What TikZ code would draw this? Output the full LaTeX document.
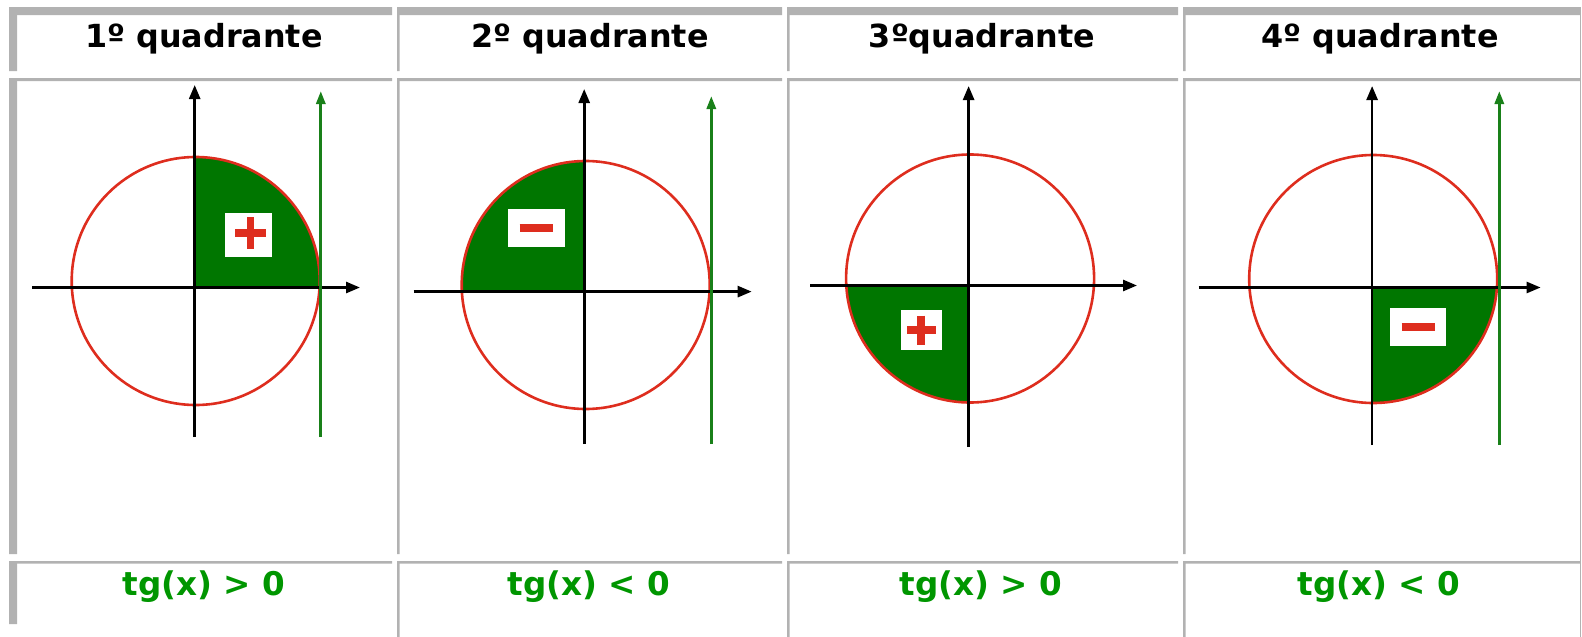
\documentclass[tikz,border=0pt]{standalone}
\usepackage{fontspec}
\setmainfont{DejaVu Sans}
\usetikzlibrary{arrows.meta,positioning}

\definecolor{cellgray}{RGB}{178,178,178}
\definecolor{sectorgreen}{RGB}{0,118,0}
\definecolor{tggreen}{RGB}{25,128,25}
\definecolor{labelgreen}{RGB}{0,150,0}
\definecolor{circred}{RGB}{222,45,30}

\begin{document}
\begin{tikzpicture}[x=1pt,y=-1pt,
  head/.style={anchor=base,font=\fontsize{31.8}{38}\selectfont\bfseries},
  tglabel/.style={anchor=base,text=labelgreen,font=\fontsize{32.6}{38}\selectfont\bfseries},
  axisline/.style={line width=2.6pt,-{Triangle[length=14pt,width=11pt]}},
  tgaxis/.style={tggreen,line width=3pt,-{Triangle[length=13pt,width=9pt]}},
  unitcirc/.style={circred,line width=2.6pt},
  signbox/.style={fill=white,inner sep=0pt},
  signmark/.style={circred,line width=7.5pt}]
\useasboundingbox (0,0) rectangle (1582,637);

% table frame
\fill[cellgray] (9,7) rectangle (392,15) (397,7) rectangle (782,15)
  (787,7) rectangle (1178,15) (1183,7) rectangle (1580,15);
\fill[cellgray] (9,78) rectangle (392,81) (397,78) rectangle (782,81)
  (787,78) rectangle (1178,81) (1183,78) rectangle (1580,81);
\fill[cellgray] (9,561) rectangle (392,563.5) (397,561) rectangle (782,563.5)
  (787,561) rectangle (1178,563.5) (1183,561) rectangle (1580,563.5);
\fill[cellgray] (9,7) rectangle (17,71) (9,78) rectangle (17,554) (9,561) rectangle (17,624);
\fill[cellgray] (397,7) rectangle (399.5,71) (397,78) rectangle (399.5,554) (397,561) rectangle (399.5,637);
\fill[cellgray] (787,7) rectangle (789.5,71) (787,78) rectangle (789.5,554) (787,561) rectangle (789.5,637);
\fill[cellgray] (1183,7) rectangle (1185.5,71) (1183,78) rectangle (1185.5,554) (1183,561) rectangle (1185.5,637);
\fill[cellgray] (1579.5,7) rectangle (1581,637);

% headers
\node[head] (h1) at (204,47) {1º quadrante};
\node[head] (h2) at (590,47) {2º quadrante};
\node[head] (h3) at (982,47) {3ºquadrante};
\node[head] (h4) at (1380,47) {4º quadrante};

% 1o quadrante
\begin{scope}
\clip (195.7,281) circle (124);
\fill[sectorgreen] (194.7,287.5) rectangle (340,140);
\end{scope}
\draw[unitcirc] (195.7,281) circle (124);
\draw[axisline] (194.7,437) -- (194.7,85);
\draw[axisline] (32,287.5) -- (360,287.5);
\draw[tgaxis] (320.8,437) -- (320.8,91);
\node[signbox,minimum width=47pt,minimum height=44pt] (s1) at (248.5,235) {};
\draw[signmark] (235,233) -- (266,233);
\draw[signmark] (250.5,217) -- (250.5,249);

% 2o quadrante
\begin{scope}
\clip (585.7,285) circle (124);
\fill[sectorgreen] (584.2,291.6) rectangle (440,140);
\end{scope}
\draw[unitcirc] (585.7,285) circle (124);
\draw[axisline] (584.2,444) -- (584.2,89);
\draw[axisline] (413.7,291.6) -- (751.7,291.6);
\draw[tgaxis] (711.3,444) -- (711.3,96);
\node[signbox,minimum width=57pt,minimum height=38pt] (s2) at (536.2,228) {};
\draw[signmark] (519.5,228) -- (553,228);

% 3o quadrante
\begin{scope}
\clip (970.1,278.5) circle (124);
\fill[sectorgreen] (968.6,285.5) rectangle (830,420);
\end{scope}
\draw[unitcirc] (970.1,278.5) circle (124);
\draw[axisline] (968.6,447) -- (968.6,86);
\draw[axisline] (810.2,285.5) -- (1137,285.5);
\node[signbox,minimum width=41pt,minimum height=40pt] (s3) at (921.2,330) {};
\draw[signmark] (907,330) -- (935.5,330);
\draw[signmark] (921.2,315.5) -- (921.2,344.5);

% 4o quadrante
\begin{scope}
\clip (1373.2,279) circle (124);
\fill[sectorgreen] (1372.1,287.5) rectangle (1520,420);
\end{scope}
\draw[unitcirc] (1373.2,279) circle (124);
\draw[axisline] (1372.1,445) -- (1372.1,86);
\draw[axisline] (1198.6,287.5) -- (1540.6,287.5);
\draw[tgaxis] (1499.3,445) -- (1499.3,91);
\node[signbox,minimum width=56pt,minimum height=38pt] (s4) at (1418,326.8) {};
\draw[signmark] (1401.5,326.8) -- (1434.5,326.8);

% sinal da tangente
\node[tglabel] (t1) at (204,595) {tg(x) > 0};
\node[tglabel] (t2) at (589,595) {tg(x) < 0};
\node[tglabel] (t3) at (981,595) {tg(x) > 0};
\node[tglabel] (t4) at (1379,595) {tg(x) < 0};
\end{tikzpicture}
\end{document}
